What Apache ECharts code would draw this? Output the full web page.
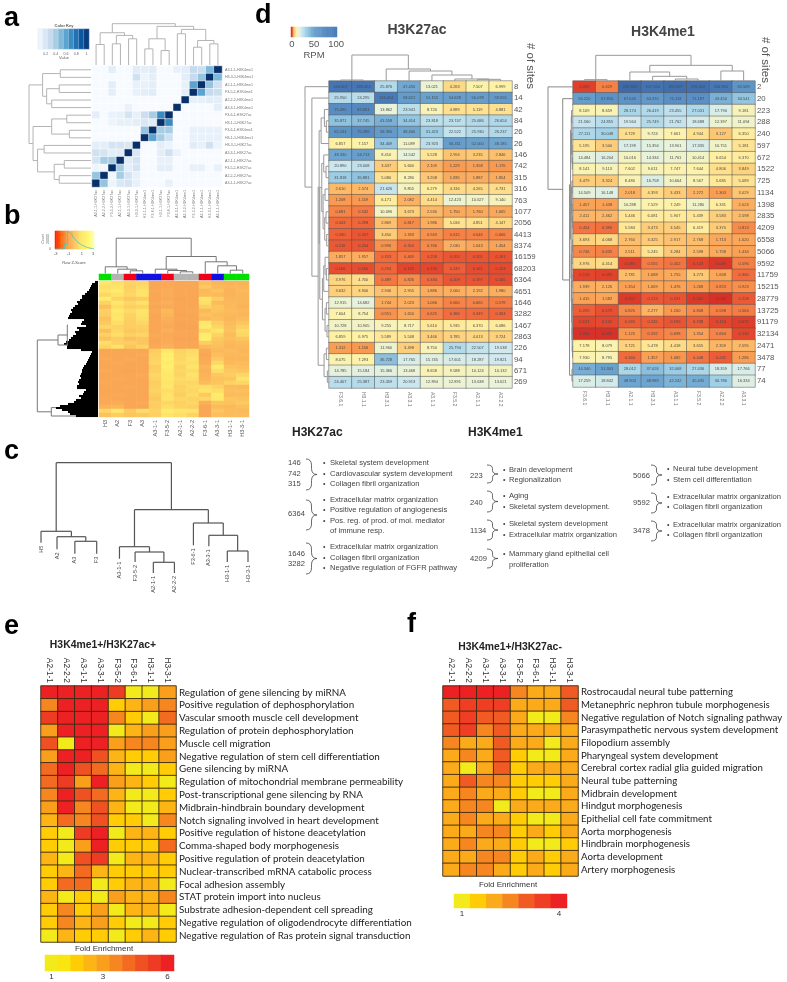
<!DOCTYPE html>
<html><head><meta charset="utf-8">
<style>html,body{margin:0;padding:0;background:#fff}#c{width:787px;height:982px}</style>
<script src="https://cdn.jsdelivr.net/npm/echarts@6/dist/echarts.min.js"></script>
</head><body><div id="c"></div>
<script>
// ---------- panel a ----------
const aColumns=['A3-1-1-H3K27ac','A2-2-2-H3K27ac','F3-5-2-H3K27ac','A2-1-1-H3K27ac','A3-3-1-H3K27ac','H3-3-1-H3K27ac','H3-1-1-H3K4me1','F3-6-1-H3K4me1','H3-1-1-H3K27ac','F3-6-1-H3K27ac','A3-3-1-H3K4me1','A2-2-2-H3K4me1','F3-5-2-H3K4me1','A2-1-1-H3K4me1','H3-3-1-H3K4me1','A3-1-1-H3K4me1'];
const aRows=aColumns.slice().reverse();
const aMatrix=[
[0,0,.1,0,0,.12,.1,.12,0,0,.08,.1,.25,.22,.45,1],
[0,0,0,0,0,.2,.05,.1,0,0,0,.1,.25,.4,1,.45],
[0,0,.1,0,0,.08,.08,.1,0,0,0,.08,.55,1,.4,.2],
[0,0,.1,0,0,.08,.1,.12,0,0,0,.1,1,.55,.25,.22],
[0,0,0,0,0,0,0,0,0,0,0,1,.08,.08,.1,.1],
[0,0,0,0,.07,0,0,0,0,0,1,0,0,0,0,.1],
[.1,0,.07,.08,.18,.08,.22,.35,.65,1,0,0,0,0,0,0],
[0,0,.05,.08,.08,.1,.15,.12,1,.65,0,0,0,0,0,0],
[0,0,0,0,0,0,.4,1,.35,.35,0,0,.08,.08,.08,.08],
[0,0,0,0,0,0,1,.55,.35,.2,0,0,.08,.08,.08,.08],
[.1,.1,.18,.18,.15,1,0,0,.1,.06,0,0,.12,.08,.2,.06],
[.2,.18,.1,.12,1,.15,0,0,.1,.2,.07,0,0,0,0,0],
[.18,.35,.35,1,.12,.18,0,0,.08,.08,0,0,0,0,0,0],
[.05,.03,1,.35,.1,.18,0,0,.1,.1,0,0,.08,.08,0,.08],
[.4,1,.03,.35,.18,.08,0,0,0,0,0,0,0,0,0,0],
[1,.4,.05,.15,.18,.08,0,0,0,.08,0,0,0,0,0,0]];
const aTree=[123,[96,[61,0,1],[88,[63,2,3],[78,4,5]]],[115,[78,[48,6,7],[43,8,9]],[106,[93,10,11],[73,[53,12,13],[63,14,15]]]]];
const aKeyValues=[.05,.15,.25,.35,.45,.55,.65,.75,.85,.95];
const aKeyLabels=['','0.2','','0.4','','0.6','','0.8','','1'];
// ---------- panel b ----------
const bColumns=['H3','A2','F3','A3','A3-1-1','F3-5-2','A2-1-1','A2-2-2','F3-6-1','A3-3-1','H3-1-1','H3-3-1'];
const bGroups=[0,1,2,3,3,2,1,1,2,3,0,0];
const bZTenths=[
[12,8,5,6,-9,-8,-9,-9,-1,-4,-5,-5],[8,10,4,7,-9,-8,-9,-9,2,-3,-4,-4],[10,13,5,9,-8,-7,-9,-9,-3,0,-5,-3],
[6,9,6,10,-9,-7,-9,-9,-2,-3,-5,-4],[13,5,2,3,-9,-8,-10,-9,10,3,-4,-4],[5,12,6,9,-8,-6,-9,-9,8,-2,-3,-4],
[-1,8,4,5,-9,-8,-9,-9,4,1,-3,-5],[4,13,7,10,-8,-3,-9,-8,-3,0,-2,-3],[3,10,5,9,-9,-4,-10,-9,0,-2,-3,-4],
[0,11,4,8,-9,-6,-9,-9,-3,-1,-4,-2],[2,8,3,6,-9,-7,-10,-9,12,3,-2,1],[6,5,3,4,-9,-8,-10,-10,14,6,-1,4],
[-1,6,2,3,-9,-6,-9,-9,6,10,0,7],[4,8,4,6,-8,-8,-9,-9,14,5,-2,6],[0,3,-1,1,-9,-8,-10,-10,16,2,-1,1],
[8,4,3,1,-9,-7,-9,-9,3,0,-3,-2],[5,9,1,5,-8,-6,-9,-9,-3,-1,-4,-3],
[-9,-9,-9,-9,3,11,5,7,-8,-3,-2,-4],[-9,-9,-9,-8,4,15,6,8,-9,-1,-3,-3],[-8,-9,-8,-9,5,16,6,9,-8,2,-4,-4],
[-9,-8,-9,-9,6,14,7,8,-7,6,-3,-2],[-9,-9,-9,-9,3,16,5,10,-4,14,0,-1],[-8,-9,-10,-9,4,13,6,7,-6,8,2,1],
[-9,-9,-9,-8,6,12,5,9,-5,2,3,6],[-9,-8,-9,-9,5,11,7,8,-4,0,1,9],[-8,-9,-9,-9,3,10,6,6,-2,1,5,6],
[-9,-9,-8,-9,4,12,4,7,8,5,-2,-3],[-9,-9,-9,-9,5,8,5,6,10,8,-1,-1],[-9,-8,-9,-9,3,9,3,7,2,13,-2,-2],
[-8,-9,-9,-9,2,10,6,5,6,12,1,0],[-8,-7,-9,-8,4,6,4,6,-6,1,0,2],[-5,-4,-9,-9,3,8,5,4,-9,-2,-3,-1],
[6,12,2,8,5,14,10,9,-9,1,-2,-3],[0,3,1,2,4,10,8,5,-9,-1,-2,-2]];
const bTopTree=[35.3,[6.7,0,[4.3,1,[2.7,2,3]]],[17,[4.3,4,[3,5,[1.7,6,7]]],[11.7,8,[7.7,9,[3.3,10,11]]]]];
const bRowReach=[3,6,7,8,9,11,13,16,16,18,21,20,23,25,27,26,28,29,30,14,16,17,12,21,19,23,22,25,27,29,32,34,31,31,17,6,7,8,9,10,11,12,14,15,16,16,17,18,17,19,20,19,21,21,12,14,15,19,17,22,24,30,38,42,36,30,28,22];
const bRowTree=[60.7,[40,[30.7,0,1],2],[46.7,3,4]];
const bRowTreeLeaf=[22,32,32,63.3,67.5];
const bRowTreeBase=[30,30,30,42,22];
const bKeyZ=[-2.9,-2.6,-2.4,-2.1,-1.9,-1.6,-1.4,-1.1,-.9,-.6,-.4,-.1,.1,.4,.6,.9,1.1,1.4,1.6,1.9,2.1,2.4,2.6,2.9];
const bKeyLabels=['-3','','','','','','','','-1','','','','','','','','1','','','','','','','3'];
const bKeyHist=[[-3,0],[-1.55,0],[-1.55,.25],[-1.1,.25],[-1.1,1],[-.85,1],[-.5,.85],[-.1,.62],[.4,.42],[.9,.27],[1.4,.17],[2,.08],[2.6,.03],[3,0]];
// ---------- panel c ----------
const cLeaves=['H5','A2','A3','F3','A3-1-1','F3-5-2','A2-1-1','A2-2-2','F3-6-1','A3-3-1','H3-1-1','H3-3-1'];
const cLeafPos=[0,.85,1.8,2.96,4.17,5,5.97,7.09,8.1,8.92,9.9,11];
const cLeafBase=[49.3,42.7,38.3,38.3,33.3,30,19,19,46.7,45.7,30,30];
const cTree=[129.3,[60.7,0,[55.3,1,[50.7,2,3]]],[82.3,[45.3,4,[40,5,[29.7,6,7]]],[69,8,[56.7,9,[41,10,11]]]]];
// ---------- panel d ----------
const dK27Columns=['F3.6.1','H3.1.1','H3.3.1','A3.3.1','A3.1.1','F3.5.2','A2.1.1','A2.2.2'];
const dK27Sites=[8,14,42,84,26,26,146,742,315,316,763,1077,2056,4413,8374,16159,68203,6364,4651,1646,3282,1467,2863,226,94,671,269];
const dK27Values=[
[144.507,138.423,25.876,47.456,13.021,4.263,7.507,6.999],[25.95,24.295,113.454,58.621,51.155,54.628,56.078,59.555],
[75.095,82.691,13.862,23.941,8.72,4.889,5.119,4.881],[35.871,37.745,43.558,34.414,23.818,23.747,25.686,26.654],
[65.243,75.289,58.39,48.466,31.423,22.522,25.93,26.237],[6.857,7.157,34.409,11.089,23.923,56.411,52,48.185],
[48.33,54.713,8.41,14.542,5.528,2.994,3.235,2.846],[20.89,23.008,3.437,5.66,2.109,1.229,1.358,1.176],
[31.818,35.881,5.08,8.28,3.208,1.835,1.887,1.854],[2.61,2.574,21.626,9.855,6.279,4.316,4.265,4.731],
[1.208,1.159,6.171,2.082,4.414,12.423,10.627,9.14],[.681,.532,10.096,3.673,2.53,1.75,1.76,1.665],
[.343,.298,2.869,.817,1.986,5.034,4.851,4.147],[.28,.207,3.45,1.333,.943,.615,.646,.666],
[.216,.204,.996,.354,.766,2.03,1.643,1.454],[1.857,1.957,.353,.469,.258,.205,.201,.191],
[.166,.16,.294,.125,.133,.249,.161,.153],[3.976,4.7,.489,.826,.334,.209,.197,.165],
[3.632,3.906,2.946,2.955,1.886,2.06,2.192,1.98],[12.915,14.682,1.744,2.023,1.066,.66,.665,.578],
[7.604,8.754,.951,1.65,.625,.366,.349,.303],[10.728,10.905,9.255,8.717,5.61,5.935,6.37,6.086],
[6.859,6.975,5.589,5.548,3.466,3.785,4.013,3.724],[1.312,1.156,11.96,3.498,8.75,25.794,22.507,19.538],
[8.075,7.293,36.728,17.765,15.745,17.601,18.287,19.821],[14.785,15.184,15.366,13.468,8.658,9.588,10.124,10.132],
[24.407,25.387,23.459,20.913,12.894,12.891,13.638,13.621]];
const dK27TopTree=[78,[3,0,1],[36,2,[30,3,[18,4,[6,5,[5,6,7]]]]]];
const dK27RowTree=[73,0,[52,1,[33,[30,[24,[14,2,[8,3,4]],5],[28,[22,[16,6,[9,7,8]],[18,[12,9,10],[13,[9,11,12],[7,13,14]]]],[20,[16,[12,15,[8,16,17]],18],[12,[8,19,20],[6,21,22]]]]],[15,[8,23,24],[5,25,26]]]]];
const dK4Columns=['F3.6.1','H3.1.1','A2.1.1','H3.3.1','A3.1.1','F3.5.2','A2.2.2','A3.3.1'];
const dK4Sites=[2,20,223,288,240,597,672,1522,725,1134,1398,2835,4209,6558,5066,9592,11759,15215,28779,13725,91179,32134,2471,3478,77,74];
const dK4Values=[
[.083,.629,232.841,157.554,190.597,178.622,130.815,65.569],[56.22,67.85,67.645,60.37,71.113,71.187,43.45,34.541],
[8.109,8.659,28.174,26.419,23.455,27.031,17.79,9.181],[21.56,24.855,19.564,25.749,21.762,18.688,12.397,11.094],
[27.111,30.048,4.729,9.724,7.661,4.944,3.127,6.35],[5.195,3.5,17.199,15.394,13.901,17.335,10.751,5.181],
[14.484,16.204,10.016,14.334,11.761,10.414,6.654,6.37],[8.141,9.113,7.602,9.011,7.747,7.644,4.806,3.849],
[3.479,3.324,8.48,16.758,10.664,8.567,5.685,5.089],[14.509,16.148,2.018,4.393,3.433,2.272,1.303,3.029],
[1.457,1.438,10.288,7.529,7.249,11.28,6.331,2.024],[2.411,2.462,5.446,6.081,5.907,5.439,3.583,2.598],
[.454,.39,5.584,3.473,3.545,6.419,3.37,.813],[3.693,4.068,2.76,3.325,2.917,2.768,1.713,1.62],
[.746,.635,2.511,5.245,3.284,2.598,1.758,1.434],[3.976,4.414,.083,.555,.452,.123,.049,.596],
[.126,.095,2.781,1.688,1.755,3.273,1.668,.36],[1.939,2.126,1.354,1.669,1.476,1.268,.823,.923],
[1.415,1.582,.057,.213,.191,.052,.024,.228],[.259,.179,.825,2.277,1.2,.808,.598,.564],
[.121,.142,.245,.245,.195,.238,.124,.072],[.035,.032,1.125,.592,.698,1.354,.664,.13],
[7.178,8.079,3.721,5.478,4.418,3.655,2.359,2.595],[7.93,8.795,.344,1.357,1.082,.448,.241,1.286],
[44.34,51.303,28.012,37.026,32.068,27.436,18.359,17.766],[17.259,18.842,48.903,48.989,42.242,45.435,30.786,16.334]];
const dK4TopTree=[77,[4,0,1],[47,[27,2,[14,3,[6,4,5]]],[30,6,7]]];
const dK4RowTree=[73,0,[30,1,[10,[7,[5,[4,2,3],[4,4,[3,5,[2,6,7]]]],[5.5,[4,[3,8,9],[3,10,[2,11,12]]],[5,[3,[2,13,14],15],[4,[3,16,17],[3,[2,18,19],[2.5,[2,20,21],[1.5,22,23]]]]]]],[3,24,25]]]];
const dKeyValues=[.05,2,5,9,13,18,22,26,31,35,39,44,48,52,57,61,65,70,74,78,83,87,91,96,100];
const dKeyLabels=['0','','','','','','','','','','','','50','','','','','','','','','','','','100'];
const dColorStops=[.03,.15,.3,.6,1.2,2.5,4,7,14,20,30,50,100,230];
const dColors=['#d73027','#e5492e','#f0653a','#f67f45','#f99a50','#fdb766','#fed681','#fff2a5','#e9f3da','#cfe8ef','#a3d2e7','#6ba3cf','#4a7ebb','#3f6aa9'];
// ---------- panel e, f ----------
const efColumns=['A2-1-1','A2-2-2','A3-1-1','A3-3-1','F3-5-2','F3-6-1','H3-1-1','H3-3-1'];
const eTerms=['Regulation of gene silencing by miRNA','Positive regulation of dephosphorylation','Vascular smooth muscle cell development','Regulation of protein dephosphorylation','Muscle cell migration','Negative regulation of stem cell differentiation','Gene silencing by miRNA','Regulation of mitochondrial membrane permeability','Post-transcriptional gene silencing by RNA','Midbrain-hindbrain boundary development','Notch signaling involved in heart development','Positive regulation of histone deacetylation','Comma-shaped body morphogenesis','Positive regulation of protein deacetylation','Nuclear-transcribed mRNA catabolic process','Focal adhesion assembly','STAT protein import into nucleus','Substrate adhesion-dependent cell spreading','Negative regulation of oligodendrocyte differentiation','Negative regulation of Ras protein signal transduction'];
const eLevels=[[10,10,10,10,9,1,1,5],[6,10,10,10,3,4,5,6],[9,10,10,10,6,3,1,7],[5,10,10,10,1,4,5,5],[8,1,10,10,5,6,6,5],[5,10,10,8,4,3,3,5],[7,10,8,7,4,1,1,3],[7,9,5,10,5,4,3,1],[6,10,8,7,4,1,1,3],[5,10,6,8,4,1,1,4],[4,7,6,8,3,3,1,6],[3,1,9,10,1,4,4,3],[3,1,5,10,3,3,3,7],[4,1,8,9,1,4,4,3],[3,4,7,4,3,3,3,3],[3,7,7,1,3,4,4,1],[4,1,3,1,5,4,4,6],[3,6,3,5,1,4,4,1],[3,6,4,5,3,1,1,3],[1,4,3,3,1,3,4,3]];
const eKeyValues=[1,2,3,4,5,6,7,8,9,10];
const eKeyLabels=['1','','','','3','','','','','6'];
const fTerms=['Rostrocaudal neural tube patterning','Metanephric nephron tubule morphogenesis','Negative regulation of Notch signaling pathway','Parasympathetic nervous system development','Filopodium assembly','Pharyngeal system development','Cerebral cortex radial glia guided migration','Neural tube patterning','Midbrain development','Hindgut morphogenesis','Epithelial cell fate commitment','Aorta morphogenesis','Hindbrain morphogenesis','Aorta development','Artery morphogenesis'];
const fLevels=[[7,7,7,7,4,3,3,5],[5,6,6,6,3,3,3,5],[5,6,5,5,3,1,1,4],[5,6,4,5,3,3,3,3],[4,3,3,5,3,3,1,3],[3,4,3,5,2,1,1,3],[3,1,3,5,2,3,3,3],[3,5,4,4,2,2,2,3],[3,4,3,3,2,1,1,3],[3,4,4,1,3,3,3,3],[3,4,3,3,2,1,1,3],[3,3,4,4,2,3,2,3],[3,4,3,3,2,1,1,2],[3,3,4,4,2,3,2,3],[3,4,4,3,2,3,2,3]];
const fKeyValues=[1,2,3,4,5,6,7];
const fKeyLabels=['1','','','','','','4'];
// ---------- enrichment text ----------
const enrichK27=[
 {sites:['146','742','315'],terms:['Skeletal system development','Cardiovascular system development','Collagen fibril organization']},
 {sites:['6364'],terms:['Extracellular matrix organization','Positive regulation of angiogenesis','Pos. reg. of prod. of mol. mediator','of immune resp.']},
 {sites:['1646','3282'],terms:['Extracellular matrix organization','Collagen fibril organization','Negative regulation of FGFR pathway']}];
const enrichK4A=[
 {sites:['223'],terms:['Brain development','Regionalization']},
 {sites:['240'],terms:['Aging','Skeletal system development.']},
 {sites:['1134'],terms:['Skeletal system development','Extracellular matrix organization']},
 {sites:['4209'],terms:['Mammary gland epithelial cell','proliferation']}];
const enrichK4B=[
 {sites:['5066'],terms:['Neural tube development','Stem cell differentiation']},
 {sites:['9592'],terms:['Extracellular matrix organization','Collagen fibril organization']},
 {sites:['3478'],terms:['Extracellular matrix organization','Collagen fibril organization']}];

// ---------- builders ----------
const SANS='"Liberation Sans",Arial,sans-serif';
const option={animation:false,backgroundColor:'#fff',textStyle:{fontFamily:SANS},grid:[],xAxis:[],yAxis:[],series:[],visualMap:[],graphic:{elements:[]}};
const offAxis={axisLine:{show:false},axisTick:{show:false},splitLine:{show:false},splitArea:{show:false},axisLabel:{show:false}};
function addGrid(r,x,y){const i=option.grid.length;option.grid.push({left:r[0],top:r[1],width:r[2],height:r[3]});
 option.xAxis.push(Object.assign({gridIndex:i},offAxis,x));option.yAxis.push(Object.assign({gridIndex:i},offAxis,y));return i;}
function heat(r,o){
 const g=addGrid(r,Object.assign({type:'category',data:o.xcat},o.xAxis||{}),Object.assign({type:'category',data:o.ycat,inverse:true},o.yAxis||{}));
 const si=option.series.length;
 option.series.push({type:'heatmap',xAxisIndex:g,yAxisIndex:g,data:o.data,silent:true,progressive:0,
  itemStyle:o.item||{borderWidth:0},
  label:o.label||{show:false},emphasis:{disabled:true}});
 option.visualMap.push({type:'continuous',show:false,seriesIndex:si,dimension:o.dim||2,min:o.min,max:o.max,inRange:{color:o.colors}});
 return g;}
function cells(m,f){const out=[];m.forEach((row,y)=>row.forEach((v,x)=>out.push(f?f(x,y,v):[x,y,v])));return out;}
function dendroSegs(node,pos,base,segs){
 if(typeof node==='number')return {p:pos?pos[node]:node+.5,h:base?base[node]:0};
 const a=dendroSegs(node[1],pos,base,segs),b=dendroSegs(node[2],pos,base,segs),h=node[0];
 segs.push([a.p,a.h,a.p,h],[b.p,b.h,b.p,h],[a.p,h,b.p,h]);
 return {p:(a.p+b.p)/2,h};}
function lineSeries(g,segs,color,w){
 option.series.push({type:'custom',xAxisIndex:g,yAxisIndex:g,silent:true,clip:false,data:segs,encode:{x:[0,2],y:[1,3]},
  renderItem:(p,api)=>{const s=api.coord([api.value(0),api.value(1)]),e=api.coord([api.value(2),api.value(3)]);
   return {type:'line',shape:{x1:s[0],y1:s[1],x2:e[0],y2:e[1]},style:{stroke:color,lineWidth:w}};}});}
function dendroTop(r,tree,n,hMax,color,w,pos,base){
 const segs=[];dendroSegs(tree,pos,base,segs);
 const g=addGrid(r,{type:'value',min:pos?pos[0]:0,max:pos?pos[n-1]:n},{type:'value',min:0,max:hMax});
 lineSeries(g,segs,color,w);return g;}
function dendroLeft(r,tree,n,hMax,color,w,pos,base){
 const segs=[];dendroSegs(tree,pos,base,segs);
 const g=addGrid(r,{type:'value',min:0,max:hMax,inverse:true},{type:'value',min:0,max:n,inverse:true});
 lineSeries(g,segs.map(s=>[s[1],s[0],s[3],s[2]]),color,w);return g;}
function T(x,y,text,font,fill,o){o=o||{};
 option.graphic.elements.push({type:'text',x,y,rotation:o.rot||0,silent:true,style:{text,font,fill:fill||'#333',align:o.align||'left',textAlign:o.align||'left',verticalAlign:'middle',textVerticalAlign:'middle'}});}
function brace(x0,y0,x1,y1){const xm=(x0+x1)/2,ym=(y0+y1)/2,q=(y1-y0)*.2;const st={fill:'none',stroke:'#444',lineWidth:.8};
 const curve=(a,b,cx,cy,c,d)=>option.graphic.elements.push({type:'bezierCurve',silent:true,shape:{x1:a,y1:b,cpx1:cx,cpy1:cy,x2:c,y2:d},style:st});
 const seg=(a,b,c,d)=>option.graphic.elements.push({type:'line',silent:true,shape:{x1:a,y1:b,x2:c,y2:d},style:st});
 curve(x0,y0,xm,y0,xm,y0+q);seg(xm,y0+q,xm,ym-q);curve(xm,ym-q,xm,ym,x1,ym);curve(x1,ym,xm,ym,xm,ym+q);seg(xm,ym+q,xm,y1-q);curve(xm,y1-q,xm,y1,x0,y1);}

// ---------- a ----------
const aBlues=['#f7fbff','#dfebf7','#c6dbef','#9ecae1','#6baed6','#4292c6','#2171b5','#08519c','#08306b'];
heat([92,66,130,121],{xcat:aColumns,ycat:aRows,data:cells(aMatrix),min:0,max:1,colors:aBlues,item:{borderColor:'#fff',borderWidth:.5},
 xAxis:{axisLabel:{show:true,interval:0,rotate:90,fontSize:3.6,color:'#777',margin:3}},
 yAxis:{position:'right',axisLabel:{show:true,interval:0,fontSize:3.6,color:'#777',margin:3}}});
dendroTop([92,23,130,42],aTree,16,125,'#b4b4b4',1);
dendroLeft([28,66,63,121],aTree,16,125,'#b4b4b4',1);
heat([38,29,51,20],{xcat:aKeyLabels,ycat:['v'],data:aKeyValues.map((v,i)=>[i,0,v]),min:0,max:1,colors:aBlues,item:{borderColor:'#dfe6ee',borderWidth:.3},
 xAxis:{axisLabel:{show:true,interval:0,fontSize:3.6,color:'#666',margin:3}}});
T(64,26,'Color Key','bold 4px '+SANS,'#555',{align:'center'});
T(64,58,'Value','4px '+SANS,'#666',{align:'center'});
// ---------- b ----------
const bHeatColors=['#ff1a00','#ff6a10','#f9a454','#fcc25e','#fee56a','#fff56e','#ffffa8'];
heat([99,281,150,136],{xcat:bColumns,ycat:bZTenths.map((_,i)=>String(i)),data:cells(bZTenths,(x,y,v)=>[x,y,v/10]),min:-3,max:3,colors:bHeatColors,
 xAxis:{axisLabel:{show:true,interval:0,rotate:90,fontSize:5.5,color:'#555',margin:3}}});
heat([99,274,150,6],{xcat:bColumns,ycat:['g'],data:bGroups.map((v,i)=>[i,0,v]),min:0,max:3,colors:['#00e000','#b4b4b4','#f00018','#1010e0']});
dendroTop([99,236.5,150,37],bTopTree,12,37,'#777',1);
const bMassGrid=addGrid([36,281,62,136],{type:'value',min:0,max:62,inverse:true},{type:'value',min:0,max:68,inverse:true});
lineSeries(bMassGrid,bRowReach.map((r,i)=>[0,i+.5,r,i+.5]),'#000',2.1);
{const s=[];dendroSegs(bRowTree,bRowTreeLeaf,bRowTreeBase,s);lineSeries(bMassGrid,s.map(a=>[a[1],a[0],a[3],a[2]]),'#777',1);}
heat([55,231,39,18],{xcat:bKeyLabels,ycat:['z'],data:bKeyZ.map((v,i)=>[i,0,v]),min:-3,max:3,colors:bHeatColors,
 xAxis:{axisLabel:{show:true,interval:0,fontSize:4,color:'#555',margin:3}}});
const bHistGrid=addGrid([55,231,39,18],{type:'value',min:-3,max:3},{type:'value',min:0,max:1});
option.series.push({type:'line',xAxisIndex:bHistGrid,yAxisIndex:bHistGrid,data:bKeyHist,showSymbol:false,silent:true,lineStyle:{color:'#4fc9b8',width:.8}});
T(74,263,'Row Z-Score','4px '+SANS,'#555',{align:'center'});
T(43,239,'Count','3.6px '+SANS,'#666',{align:'center',rot:Math.PI/2});
T(48,239,'20000','3.6px '+SANS,'#666',{align:'center',rot:Math.PI/2});
T(50,249,'0','3.6px '+SANS,'#666',{align:'center'});
// ---------- c ----------
const cGrid=dendroTop([41,462,207,130],cTree,12,130,'#555',1.2,cLeafPos,cLeafBase);
option.series.push({type:'custom',xAxisIndex:cGrid,yAxisIndex:cGrid,silent:true,clip:false,data:cLeaves.map((n,i)=>[cLeafPos[i],cLeafBase[i],n]),encode:{x:0,y:1},
 renderItem:(p,api)=>{const c=api.coord([api.value(0),api.value(1)]);
  return {type:'text',x:c[0],y:c[1]+3,rotation:Math.PI/2,style:{text:cLeaves[p.dataIndex],align:'right',verticalAlign:'middle',textAlign:'right',textVerticalAlign:'middle',font:'5.6px '+SANS,fill:'#444'}};}});
// ---------- d ----------
function colourPos(v){for(let i=0;i<dColorStops.length-1;i++){if(v<=dColorStops[i+1]){const a=Math.log(Math.max(v,dColorStops[0])),b=Math.log(dColorStops[i]),c=Math.log(dColorStops[i+1]);return i+(a-b)/(c-b);}}return dColorStops.length-1;}
const dCellLabel={show:true,fontSize:4,color:'#4a4a4a',textBorderWidth:0,formatter:p=>p.value[2].toFixed(3)};
function dHeat(r,cols,sites,vals){
 heat(r,{xcat:cols,ycat:sites.map(String),data:cells(vals,(x,y,v)=>[x,y,v,colourPos(v)]),dim:3,min:0,max:dColors.length-1,colors:dColors,
  item:{borderColor:'rgba(85,85,85,.75)',borderWidth:.7},label:dCellLabel,
  xAxis:{axisLabel:{show:true,interval:0,rotate:-90,fontSize:5,color:'#777',margin:4}},
  yAxis:{position:'right',axisLabel:{show:true,interval:0,fontSize:7.8,color:'#555',margin:2}}});}
dHeat([329,81,183,307],dK27Columns,dK27Sites,dK27Values);
dendroTop([329,55,183,26],dK27TopTree,8,78,'#999',1);
dendroLeft([305,81,24,307],dK27RowTree,27,73,'#999',1);
dHeat([573,81,182,306],dK4Columns,dK4Sites,dK4Values);
dendroTop([573,55,182,26],dK4TopTree,8,78,'#999',1);
dendroLeft([548,81,25,306],dK4RowTree,26,73,'#888',1);
heat([291,27,46,10],{xcat:dKeyLabels,ycat:['r'],data:dKeyValues.map((v,i)=>[i,0,v,colourPos(v)]),dim:3,min:0,max:dColors.length-1,colors:dColors,
 xAxis:{axisLabel:{show:true,interval:0,fontSize:9.5,color:'#555',margin:2}}});
T(314,55,'RPM','9.5px '+SANS,'#555',{align:'center'});
T(417,30,'H3K27ac','bold 14px '+SANS,'#444',{align:'center'});
T(663,32,'H3K4me1','bold 14px '+SANS,'#444',{align:'center'});
T(530,66,'# of sites','11.5px '+SANS,'#555',{align:'center',rot:-Math.PI/2});
T(765,60,'# of sites','11.5px '+SANS,'#555',{align:'center',rot:-Math.PI/2});
// ---------- enrichment ----------
const enrichFont='7.6px '+SANS;
T(292,433,'H3K27ac','bold 12px '+SANS,'#222');
T(468,433,'H3K4me1','bold 12px '+SANS,'#222');
function enrich(list,numX,brX,bulX,txtX,layout){
 list.forEach((g,i)=>{const L=layout[i];
  g.sites.forEach((s,k)=>T(numX,L.siteY[k],s,enrichFont,'#444'));
  brace(brX,L.br[0],brX+11,L.br[1]);
  g.terms.forEach((t,k)=>{if(!L.noBullet||!L.noBullet.includes(k))T(bulX,L.termY[k],'•','7px '+SANS,'#444');T(txtX,L.termY[k],t,enrichFont,'#444');});});}
enrich(enrichK27,288,306,323,330,[
 {siteY:[463,473.6,484],br:[459,490],termY:[463,473.7,484]},
 {siteY:[514],br:[500,530],termY:[500,510,521,531],noBullet:[3]},
 {siteY:[553.7,564.3],br:[543,574],termY:[547,558,568]}]);
enrich(enrichK4A,470,487,503,509,[
 {siteY:[476],br:[465,483],termY:[470,480]},
 {siteY:[503],br:[491,512],termY:[496,507]},
 {siteY:[531],br:[520,540],termY:[524,535]},
 {siteY:[559],br:[549,568],termY:[554,565],noBullet:[1]}]);
enrich(enrichK4B,633,651,667,673,[
 {siteY:[476],br:[465,485],termY:[469,480]},
 {siteY:[503],br:[493,513],termY:[497,507]},
 {siteY:[531],br:[521,541],termY:[525,535]}]);
// ---------- e, f ----------
const ePalette=['#f3ea1c','#f9e50f','#ffcc05','#fdb515','#f99f1c','#f6861f','#f36a21','#f05123','#ee3b24','#ed2024'];
const fPalette=['#f3ea1c','#ffcc05','#fbaa19','#f6861f','#f15a22','#ef3e24','#ed2024'];
const termLabel=s=>({show:true,interval:0,fontFamily:'Lato',fontSize:s,color:'#222',margin:3});
const efCol={position:'top',axisLabel:{show:true,interval:0,rotate:90,fontSize:8.4,color:'#333',margin:3}};
const cellBorder={borderColor:'#3c2a10',borderWidth:.9};
heat([41,686,135,256],{xcat:efColumns,ycat:eTerms,data:cells(eLevels),min:1,max:10,colors:ePalette,item:cellBorder,xAxis:efCol,yAxis:{position:'right',axisLabel:termLabel(9.85)}});
heat([45,955,129,16],{xcat:eKeyLabels,ycat:['k'],data:eKeyValues.map((v,i)=>[i,0,v]),min:1,max:10,colors:ePalette,
 xAxis:{axisLabel:{show:true,interval:0,fontSize:8,color:'#333',margin:2}}});
T(103,645,'H3K4me1+/H3K27ac+','bold 10.4px '+SANS,'#222',{align:'center'});
T(104,949,'Fold Enrichment','8px '+SANS,'#333',{align:'center'});
heat([443,686,135,190],{xcat:efColumns,ycat:fTerms,data:cells(fLevels),min:1,max:7,colors:fPalette,item:cellBorder,xAxis:efCol,yAxis:{position:'right',axisLabel:termLabel(9.7)}});
heat([454,894,113,14],{xcat:fKeyLabels,ycat:['k'],data:fKeyValues.map((v,i)=>[i,0,v]),min:1,max:7,colors:fPalette,
 xAxis:{axisLabel:{show:true,interval:0,fontSize:8,color:'#333',margin:2}}});
T(510,647,'H3K4me1+/H3K27ac-','bold 10.4px '+SANS,'#222',{align:'center'});
T(508,885,'Fold Enrichment','8px '+SANS,'#333',{align:'center'});
// panel letters
[['a',4,19],['b',4,217],['c',4,452],['d',255,16],['e',4,627],['f',407,625]].forEach(l=>T(l[1],l[2],l[0],'bold 27px '+SANS,'#000'));

const chart=echarts.init(document.getElementById('c'),null,{renderer:'canvas',width:787,height:982});
chart.setOption(option);
</script></body></html>
